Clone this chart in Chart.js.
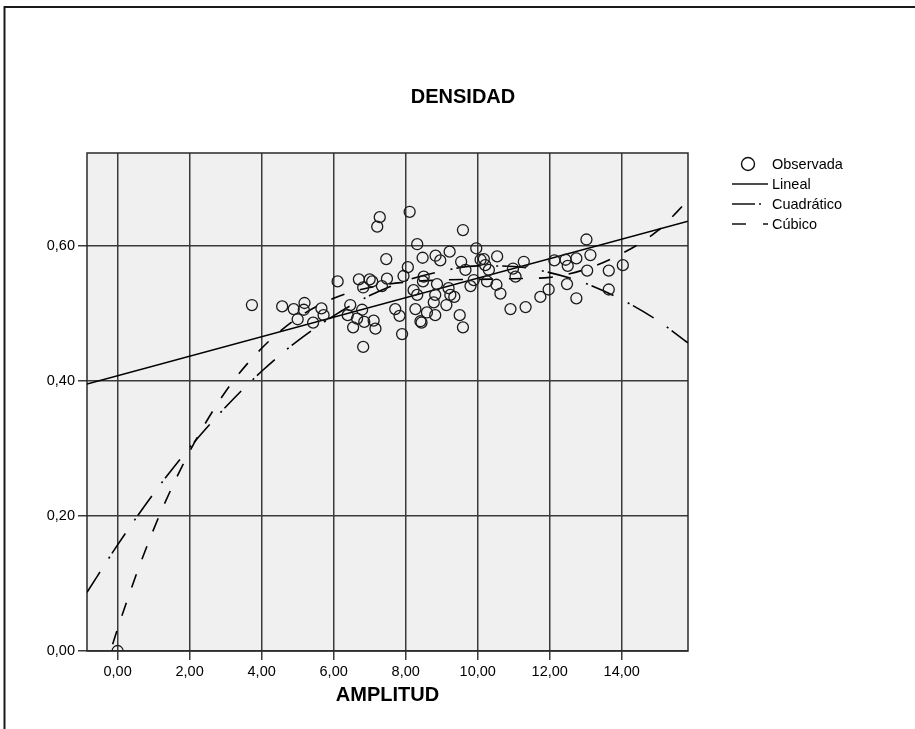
<!DOCTYPE html>
<html><head><meta charset="utf-8">
<script src="https://cdn.jsdelivr.net/npm/chart.js@4.4.1/dist/chart.umd.min.js"></script>
<style>html,body{margin:0;padding:0;background:#fff;}canvas{display:block;}</style>
</head><body>
<canvas id="c" width="915" height="729"></canvas>
<script>
// ---- text ----
const chartTitle = 'DENSIDAD';
const xAxisTitle = 'AMPLITUD';
const seriesNames = ['Observada', 'Lineal', 'Cuadrático', 'Cúbico'];
// ---- axes ----
const xTicks = [0, 2, 4, 6, 8, 10, 12, 14];
const yTicks = [0, 0.2, 0.4, 0.6];
const xRange = [-0.85, 15.84];
const yRange = [0, 0.737];
// ---- observed points ----
const obsX = [0.00, 3.73, 4.57, 4.89, 5.19, 5.17, 5.00, 5.43, 5.66, 5.72, 6.11, 6.46, 6.70, 7.00, 6.82, 7.07, 6.39, 6.65, 6.79, 6.54,
  6.85, 7.11, 7.16, 6.82, 7.28, 7.21, 8.11, 9.59, 8.32, 7.46, 8.47, 8.83, 8.96, 9.22, 9.54, 9.66, 9.96, 10.17, 8.06, 7.94,
  7.48, 7.34, 8.50, 8.48, 8.22, 8.32, 8.87, 9.19, 9.24, 9.35, 8.82, 8.78, 9.13, 7.71, 7.83, 8.27, 8.59, 8.82, 8.41, 8.44,
  9.50, 9.59, 7.90, 9.80, 9.89, 10.08, 10.21, 10.31, 10.26, 10.52, 10.54, 13.02, 11.28, 10.98, 11.05, 12.13, 12.44, 12.50, 12.74, 13.13,
  13.04, 13.64, 14.03, 12.48, 11.97, 11.74, 12.74, 13.64, 10.63, 10.91, 11.33];
const obsY = [0.000, 0.512, 0.510, 0.506, 0.515, 0.505, 0.491, 0.486, 0.507, 0.497, 0.547, 0.512, 0.550, 0.550, 0.538, 0.547, 0.497, 0.492, 0.505, 0.479,
  0.487, 0.489, 0.477, 0.450, 0.642, 0.628, 0.650, 0.623, 0.602, 0.580, 0.582, 0.585, 0.578, 0.591, 0.576, 0.564, 0.596, 0.580, 0.568, 0.555,
  0.551, 0.540, 0.554, 0.547, 0.534, 0.527, 0.543, 0.537, 0.527, 0.524, 0.527, 0.516, 0.512, 0.506, 0.496, 0.506, 0.501, 0.497, 0.488, 0.486,
  0.497, 0.479, 0.469, 0.540, 0.549, 0.579, 0.571, 0.564, 0.547, 0.542, 0.584, 0.609, 0.576, 0.566, 0.554, 0.578, 0.579, 0.570, 0.581, 0.586,
  0.563, 0.563, 0.571, 0.543, 0.535, 0.524, 0.522, 0.535, 0.529, 0.506, 0.509];
// ---- fitted curves ----
const linealX = [-0.85, 15.84];
const linealY = [0.395, 0.636];
const curveX = [-0.85, 0, 1, 2, 3, 4, 5, 6, 7, 8, 9, 10, 11, 12, 13, 14, 15, 15.84];
const cuadraticoY = [0.087, 0.157, 0.233, 0.301, 0.361, 0.414, 0.459, 0.496, 0.526, 0.548, 0.562, 0.570, 0.569, 0.560, 0.544, 0.520, 0.489, 0.456];
const cubicoY = [-0.118, 0.033, 0.180, 0.295, 0.384, 0.448, 0.493, 0.522, 0.538, 0.546, 0.549, 0.550, 0.551, 0.553, 0.565, 0.588, 0.622, 0.667];

const pts = (xs, ys) => xs.map((x, i) => ({x, y: ys[i]}));
const fmt = v => Number(v).toFixed(2).replace('.', ',');
const FONT = "'Liberation Sans', Arial, sans-serif";
Chart.defaults.font.family = FONT;
Chart.defaults.color = '#000';

const GRID = '#3a3a3a';

const decor = {
  id: 'decor',
  beforeDraw(chart) {
    const {ctx, chartArea: a} = chart;
    ctx.save();
    ctx.fillStyle = '#fff';
    ctx.fillRect(0, 0, chart.width, chart.height);
    ctx.fillStyle = '#f0f0f0';
    ctx.fillRect(a.left, a.top, a.right - a.left, a.bottom - a.top);
    ctx.strokeStyle = '#1a1a1a';
    ctx.lineWidth = 2;
    ctx.beginPath();
    ctx.moveTo(4.5, chart.height);
    ctx.lineTo(4.5, 7);
    ctx.lineTo(chart.width, 7);
    ctx.stroke();
    ctx.restore();
  },
  beforeDatasetsDraw(chart) {
    const {ctx, chartArea: a} = chart;
    ctx.save();
    ctx.strokeStyle = '#2a2a2a';
    ctx.lineWidth = 1.5;
    ctx.strokeRect(a.left, a.top, a.right - a.left, a.bottom - a.top);
    ctx.restore();
  },
  afterDraw(chart) {
    const {ctx} = chart;
    ctx.save();
    ctx.fillStyle = '#000';
    ctx.textAlign = 'center';
    ctx.textBaseline = 'middle';
    ctx.font = 'bold 20px ' + FONT;
    ctx.fillText(chartTitle, 463, 97);
    // legend
    ctx.textAlign = 'left';
    ctx.font = '14.5px ' + FONT;
    const rows = [164, 184, 204, 224];
    chart.data.datasets.forEach((ds, i) => {
      const y = rows[i];
      ctx.strokeStyle = '#111';
      if (ds.showLine) {
        ctx.lineWidth = 1.6;
        ctx.setLineDash(ds.legendDash || []);
        ctx.beginPath();
        ctx.moveTo(732, y);
        ctx.lineTo(768, y);
        ctx.stroke();
        ctx.setLineDash([]);
      } else {
        ctx.lineWidth = 1.4;
        ctx.beginPath();
        ctx.arc(748, y, 6.5, 0, Math.PI * 2);
        ctx.stroke();
      }
      ctx.fillText(ds.label, 772, y + 1);
    });
    ctx.restore();
  }
};

new Chart(document.getElementById('c'), {
  type: 'scatter',
  data: {
    datasets: [
      {label: seriesNames[0], data: pts(obsX, obsY), pointRadius: 5.5, pointHoverRadius: 5.5,
        pointBorderWidth: 1.3, pointBackgroundColor: 'rgba(0,0,0,0)', pointBorderColor: '#1a1a1a', clip: 0, order: 1},
      {label: seriesNames[1], data: pts(linealX, linealY), showLine: true, pointRadius: 0, borderColor: '#000',
        borderWidth: 1.6, clip: 0, order: 2, legendDash: []},
      {label: seriesNames[2], data: pts(curveX, cuadraticoY), showLine: true, pointRadius: 0, borderColor: '#000',
        borderWidth: 1.6, borderDash: [24, 16, 2, 4], cubicInterpolationMode: 'monotone', clip: 0, order: 3, legendDash: [23, 4, 2, 7]},
      {label: seriesNames[3], data: pts(curveX, cubicoY), showLine: true, pointRadius: 0, borderColor: '#000',
        borderWidth: 1.6, borderDash: [14, 16], cubicInterpolationMode: 'monotone', clip: 0, order: 4, legendDash: [14, 17]}
    ]
  },
  options: {
    responsive: false,
    animation: false,
    devicePixelRatio: 1,
    layout: {padding: {left: 0, top: 153, right: 227, bottom: 0}},
    plugins: {legend: {display: false}, title: {display: false}, tooltip: {enabled: false}},
    scales: {
      x: {
        type: 'linear', min: xRange[0], max: xRange[1],
        afterBuildTicks: ax => { ax.ticks = xTicks.map(v => ({value: v})); },
        afterFit: ax => { ax.height = 78; },
        grid: {color: GRID, lineWidth: 1.5, tickLength: 9, drawTicks: true},
        border: {display: false},
        ticks: {callback: v => fmt(v), font: {size: 14.5}, padding: 3, maxRotation: 0, autoSkip: false, color: '#000'},
        title: {display: true, text: xAxisTitle, font: {size: 20, weight: 'bold'}, color: '#000', padding: {top: 0, bottom: 22}}
      },
      y: {
        type: 'linear', min: yRange[0], max: yRange[1],
        afterBuildTicks: ax => { ax.ticks = yTicks.map(v => ({value: v})); },
        afterFit: ax => { ax.width = 87; },
        grid: {color: GRID, lineWidth: 1.5, tickLength: 9, drawTicks: true},
        border: {display: false},
        ticks: {callback: v => fmt(v), font: {size: 14.5}, padding: 3, autoSkip: false, color: '#000'}
      }
    }
  },
  plugins: [decor]
});
</script>
</body></html>
